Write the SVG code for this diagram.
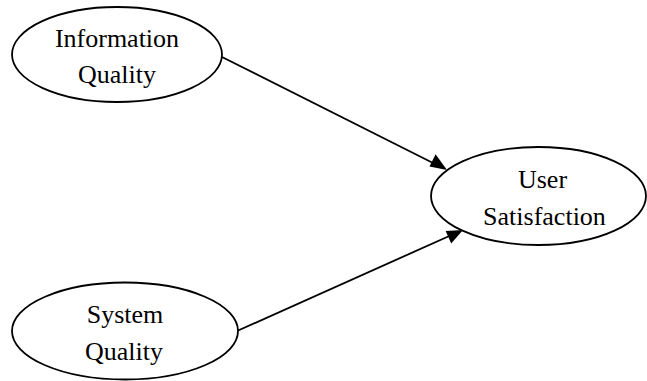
<svg xmlns="http://www.w3.org/2000/svg" width="647" height="381" viewBox="0 0 647 381">
<defs>
<style>
.node ellipse{fill:#fff;stroke:#000;stroke-width:1.8}
.node text{font-family:"Liberation Serif","Times New Roman",serif;font-size:26px;fill:#000;text-anchor:middle}
.edge{stroke:#000;stroke-width:1.8;fill:none}
.head{fill:#000}
</style>
</defs>
<rect width="647" height="381" fill="#fff"/>
<g id="connectors">
<line class="edge" x1="222" y1="57" x2="440" y2="166.5"/>
<path class="head" d="M447,170 L429.5,166.4 L435.6,154.3 z"/>
<line class="edge" x1="237" y1="331" x2="456" y2="233"/>
<path class="head" d="M463,230 L451.2,243.4 L445.7,231.1 z"/>
</g>
<g id="info-quality" class="node">
<ellipse cx="117" cy="54.5" rx="105" ry="47.5"/>
<text x="117" y="47">Information</text>
<text x="117" y="83">Quality</text>
</g>
<g id="user-satisfaction" class="node">
<ellipse cx="538.5" cy="196" rx="107.5" ry="49"/>
<text x="542.5" y="188">User</text>
<text x="544.5" y="225">Satisfaction</text>
</g>
<g id="system-quality" class="node">
<ellipse cx="125" cy="331" rx="113" ry="48.5"/>
<text x="125" y="323">System</text>
<text x="124" y="360">Quality</text>
</g>
</svg>
